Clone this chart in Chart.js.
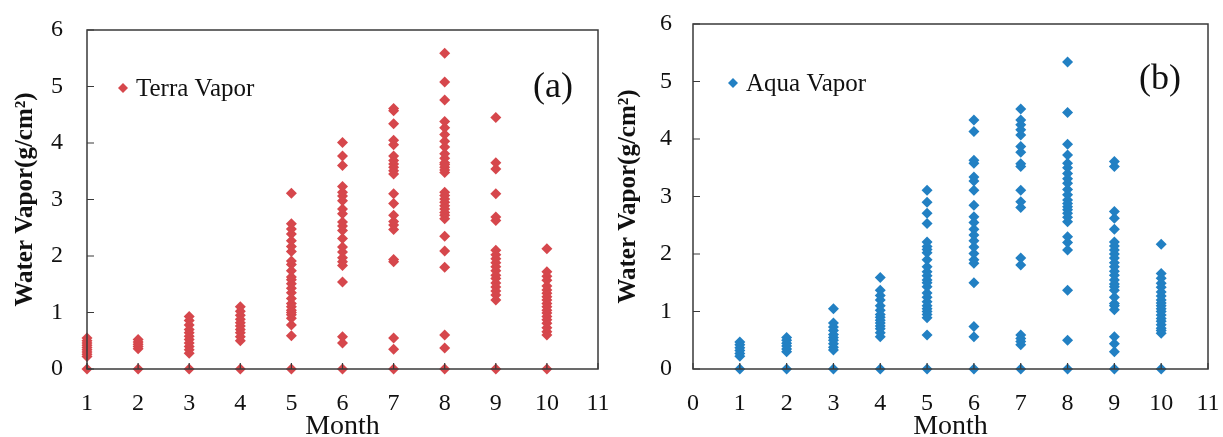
<!DOCTYPE html>
<html>
<head>
<meta charset="utf-8">
<script src="https://cdn.jsdelivr.net/npm/chart.js@4.4.1/dist/chart.umd.min.js"></script>
<style>
  body { margin: 0; background: #fff; }
  #wrap { position: relative; width: 1223px; height: 437px; overflow: hidden; }
  #panelA { position: absolute; left: 0; top: 0; }
  #panelB { position: absolute; left: 610px; top: 0; }
</style>
</head>
<body>
<div id="wrap">
  <canvas id="panelA" width="610" height="437"></canvas>
  <canvas id="panelB" width="613" height="437"></canvas>
</div>
<script>
// data: one list of vapour values per month
var months = [1, 2, 3, 4, 5, 6, 7, 8, 9, 10];
var yTicks = [0, 1, 2, 3, 4, 5, 6];

var terraVapor = [
  [0, 0.22, 0.26, 0.3, 0.34, 0.38, 0.42, 0.46, 0.5, 0.55],
  [0, 0.36, 0.4, 0.44, 0.48, 0.52],
  [0, 0.28, 0.34, 0.4, 0.46, 0.52, 0.58, 0.64, 0.7, 0.78, 0.86, 0.93],
  [0, 0.5, 0.57, 0.64, 0.7, 0.76, 0.82, 0.88, 0.95, 1.02, 1.1],
  [0, 0.59, 0.78, 0.9, 0.96, 1.0, 1.04, 1.1, 1.16, 1.25, 1.35, 1.43, 1.51, 1.58, 1.63, 1.74, 1.85, 1.91, 2.08, 2.17, 2.27, 2.39, 2.48, 2.57, 3.11],
  [0, 0.46, 0.57, 1.54, 1.83, 1.9, 1.97, 2.07, 2.16, 2.31, 2.45, 2.53, 2.6, 2.75, 2.83, 2.98, 3.06, 3.13, 3.23, 3.6, 3.77, 4.01],
  [0, 0.35, 0.55, 1.9, 1.94, 2.47, 2.55, 2.61, 2.72, 2.93, 3.1, 3.45, 3.51, 3.57, 3.63, 3.69, 3.77, 3.97, 4.05, 4.34, 4.57, 4.61],
  [0, 0.37, 0.6, 1.8, 2.09, 2.35, 2.66, 2.72, 2.77, 2.83, 2.89, 2.95, 3.01, 3.07, 3.13, 3.48, 3.52, 3.57, 3.62, 3.65, 3.73, 3.81, 3.93, 4.03, 4.15, 4.27, 4.38, 4.76, 5.08, 5.59],
  [0, 1.22, 1.31, 1.38, 1.45, 1.52, 1.6, 1.66, 1.74, 1.81, 1.88, 1.95, 2.02, 2.1, 2.63, 2.69, 3.1, 3.54, 3.65, 4.45],
  [0, 0.6, 0.66, 0.73, 0.81, 0.87, 0.93, 0.99, 1.04, 1.1, 1.16, 1.22, 1.28, 1.34, 1.4, 1.47, 1.57, 1.64, 1.72, 2.13]
];

var aquaVapor = [
  [0, 0.22, 0.27, 0.32, 0.37, 0.42, 0.47],
  [0, 0.3, 0.35, 0.4, 0.45, 0.5, 0.55],
  [0, 0.33, 0.38, 0.44, 0.5, 0.55, 0.6, 0.67, 0.73, 0.8, 1.05],
  [0, 0.56, 0.63, 0.7, 0.75, 0.8, 0.85, 0.9, 0.95, 1.02, 1.1, 1.2, 1.28, 1.37, 1.59],
  [0, 0.59, 0.89, 0.95, 1.0, 1.05, 1.1, 1.17, 1.25, 1.32, 1.43, 1.5, 1.55, 1.62, 1.69, 1.78, 1.9, 2.02, 2.08, 2.13, 2.21, 2.53, 2.71, 2.9, 3.11],
  [0, 0.56, 0.74, 1.5, 1.84, 1.9, 2.01, 2.12, 2.23, 2.33, 2.43, 2.55, 2.65, 2.85, 3.11, 3.27, 3.34, 3.58, 3.63, 4.13, 4.33],
  [0, 0.42, 0.48, 0.53, 0.59, 1.81, 1.93, 2.81, 2.91, 3.11, 3.52, 3.57, 3.77, 3.87, 4.07, 4.16, 4.25, 4.33, 4.52],
  [0, 0.5, 1.37, 2.07, 2.2, 2.3, 2.56, 2.64, 2.71, 2.77, 2.82, 2.88, 2.94, 3.03, 3.12, 3.23, 3.31, 3.4, 3.5, 3.58, 3.72, 3.91, 4.46, 5.34],
  [0, 0.3, 0.44, 0.56, 1.03, 1.1, 1.14, 1.25, 1.37, 1.43, 1.48, 1.55, 1.63, 1.7, 1.78, 1.85, 1.93, 2.0, 2.07, 2.14, 2.21, 2.43, 2.62, 2.74, 3.52, 3.61],
  [0, 0.62, 0.67, 0.71, 0.77, 0.83, 0.88, 0.94, 1.0, 1.05, 1.1, 1.15, 1.2, 1.27, 1.34, 1.42, 1.49, 1.58, 1.66, 2.17]
];

var serif = "'Liberation Serif', 'Times New Roman', serif";
var axisColor = '#3a3a3a';

function toPoints(values) {
  var pts = [];
  months.forEach(function(m, i) {
    values[i].forEach(function(v) { pts.push({ x: m, y: v }); });
  });
  return pts;
}

// frame, inside tick marks, legend and panel letter
var decorPlugin = {
  id: 'decor',
  afterDraw: function(chart) {
    var o = chart.options.plugins.decor;
    var ctx = chart.ctx, a = chart.chartArea;
    var xs = chart.scales.x, ys = chart.scales.y;
    ctx.save();
    ctx.strokeStyle = axisColor;
    ctx.lineWidth = 1.5;
    ctx.strokeRect(a.left, a.top, a.right - a.left, a.bottom - a.top);
    ctx.lineWidth = 1.2;
    ctx.beginPath();
    yTicks.forEach(function(v) {
      var y = ys.getPixelForValue(v);
      ctx.moveTo(a.left, y);
      ctx.lineTo(a.left + 7, y);
    });
    for (var m = xs.min; m <= xs.max; m++) {
      var x = xs.getPixelForValue(m);
      ctx.moveTo(x, a.bottom);
      ctx.lineTo(x, a.bottom - 6);
    }
    ctx.stroke();

    // legend
    var lx = a.left + o.legendX, ly = a.top + o.legendY;
    ctx.fillStyle = o.color;
    ctx.beginPath();
    ctx.moveTo(lx, ly - 5);
    ctx.lineTo(lx + 5, ly);
    ctx.lineTo(lx, ly + 5);
    ctx.lineTo(lx - 5, ly);
    ctx.closePath();
    ctx.fill();
    ctx.fillStyle = '#111';
    ctx.font = '25px ' + serif;
    ctx.textAlign = 'left';
    ctx.textBaseline = 'middle';
    ctx.fillText(o.label, lx + 13, ly + 1);

    ctx.font = '36px ' + serif;
    ctx.textAlign = 'center';
    ctx.fillText(o.letter, a.right - o.letterX, a.top + o.letterY);
    ctx.restore();
  }
};

function makePanel(id, values, cfg) {
  return new Chart(document.getElementById(id), {
    type: 'scatter',
    data: {
      datasets: [{
        label: cfg.label,
        data: toPoints(values),
        pointStyle: 'rectRot',
        pointRadius: 5.5,
        pointHoverRadius: 5.5,
        backgroundColor: cfg.color,
        borderColor: cfg.color,
        borderWidth: 0,
        clip: false
      }]
    },
    options: {
      responsive: false,
      animation: false,
      events: [],
      layout: { padding: { top: cfg.top, right: cfg.right, left: 0, bottom: 0 } },
      plugins: {
        legend: { display: false },
        tooltip: { enabled: false },
        decor: {
          color: cfg.color, label: cfg.label, letter: cfg.letter,
          legendX: cfg.legendX, legendY: cfg.legendY,
          letterX: cfg.letterX, letterY: cfg.letterY
        }
      },
      scales: {
        x: {
          type: 'linear',
          min: cfg.xMin, max: 11,
          afterFit: function(s) {
            s.height = 437 - 369;
            s.paddingLeft = 0;
            s.paddingRight = 0;
          },
          grid: { display: false, drawTicks: false },
          border: { display: false },
          ticks: { stepSize: 1, padding: 20, color: '#111', font: { family: serif, size: 24 } },
          title: {
            display: true, text: 'Month', color: '#111',
            font: { family: serif, size: 28, lineHeight: 0.75 },
            padding: 0
          }
        },
        y: {
          min: 0, max: 6,
          afterFit: function(s) {
            s.width = cfg.yWidth;
            s.paddingTop = 0;
            s.paddingBottom = 0;
          },
          grid: { display: false, drawTicks: false },
          border: { display: false },
          ticks: { stepSize: 1, padding: cfg.yPad, color: '#111', font: { family: serif, size: 24 } },
          title: {
            display: true, text: 'Water Vapor(g/cm²)', color: '#111',
            font: { family: serif, size: 25, weight: 'bold' },
            padding: { top: cfg.titlePad, bottom: 0 }
          }
        }
      }
    },
    plugins: [decorPlugin]
  });
}

makePanel('panelA', terraVapor, {
  label: 'Terra Vapor', color: '#D6474C', letter: '(a)',
  xMin: 1, top: 30, right: 12, yWidth: 87, yPad: 24, titlePad: 11,
  legendX: 36, legendY: 58, letterX: 45, letterY: 58
});

makePanel('panelB', aquaVapor, {
  label: 'Aqua Vapor', color: '#2280C3', letter: '(b)',
  xMin: 0, top: 24, right: 15, yWidth: 83, yPad: 21, titlePad: 4,
  legendX: 40, legendY: 59, letterX: 48, letterY: 56
});
</script>
</body>
</html>
